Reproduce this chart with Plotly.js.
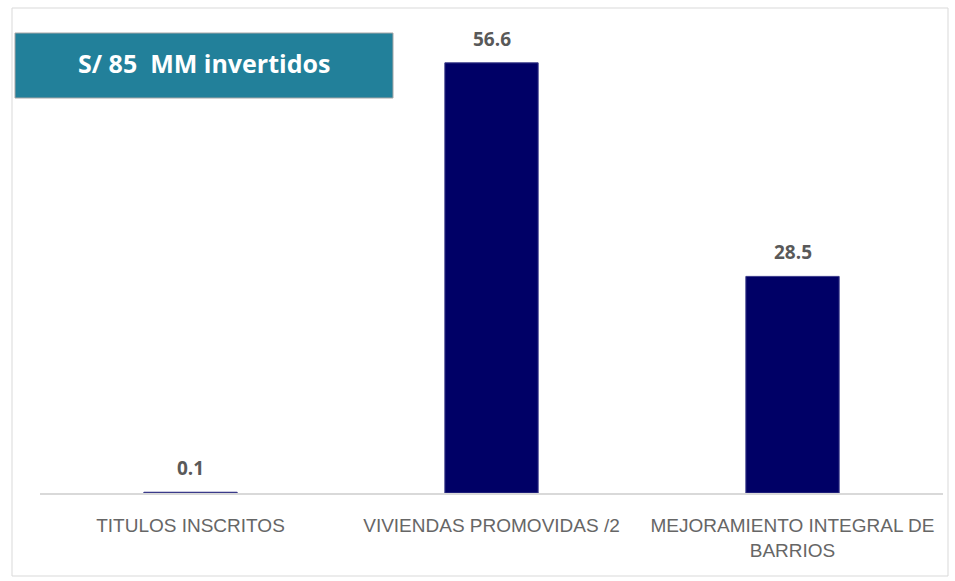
<!DOCTYPE html>
<html><head><meta charset="utf-8">
<script src="https://cdn.plot.ly/plotly-3.0.1.min.js"></script>
<style>body{margin:0;background:#fff}#c{width:955px;height:581px}</style>
</head><body><div id="c"></div>
<script>
const categories = ["TITULOS INSCRITOS", "VIVIENDAS PROMOVIDAS /2", "MEJORAMIENTO INTEGRAL DE<br>BARRIOS"];
const values = [0.1, 56.6, 28.5];
const valueLabels = ["0.1", "56.6", "28.5"];
const boxText = "S/ 85  MM invertidos";

const L = 40, R = 943, T = 37, B = 493;
const px = v => (v - L) / (R - L);
const py = v => (B - v) / (B - T);

const trace = {
  type: 'bar', x: categories, y: values,
  marker: {color: '#000066', line: {color: '#3a3a8a', width: 1}},
  hoverinfo: 'none'
};

const annotations = categories.map((c, i) => ({
  x: c, y: values[i], xref: 'x', yref: 'y', text: '<b>' + valueLabels[i] + '</b>',
  showarrow: false, yanchor: 'bottom', yshift: 9,
  font: {family: 'Open Sans, sans-serif', size: 19, color: '#595959'}
}));
annotations.push({
  x: px(204), y: py(63), xref: 'paper', yref: 'paper', text: '<b>' + boxText + '</b>',
  showarrow: false, xanchor: 'center', yanchor: 'middle',
  font: {family: 'Open Sans, sans-serif', size: 25, color: '#ffffff'}
});

const layout = {
  width: 955, height: 581,
  margin: {l: L, r: 955 - R, t: T, b: 581 - B, pad: 0},
  paper_bgcolor: '#ffffff', plot_bgcolor: '#ffffff',
  showlegend: false, bargap: 0.69,
  xaxis: {
    showline: true, linecolor: '#d9d9d9', linewidth: 2, ticks: '', showgrid: false,
    ticklabelstandoff: 14,
    tickfont: {family: 'Liberation Sans, Arial, sans-serif', size: 19, color: '#666666'},
    fixedrange: true
  },
  yaxis: {range: [0, 60], visible: false, showgrid: false, zeroline: false, fixedrange: true},
  annotations: annotations,
  shapes: [
    {type: 'rect', xref: 'paper', yref: 'paper', x0: px(12), x1: px(948), y0: py(576), y1: py(8),
     line: {color: '#d9d9d9', width: 1}, fillcolor: 'rgba(0,0,0,0)', layer: 'below'},
    {type: 'rect', xref: 'paper', yref: 'paper', x0: px(15), x1: px(393), y0: py(98), y1: py(33),
     line: {color: '#a6a6a6', width: 1}, fillcolor: '#22809A', layer: 'above'}
  ]
};

Plotly.newPlot('c', [trace], layout, {displayModeBar: false, staticPlot: true});
</script></body></html>
